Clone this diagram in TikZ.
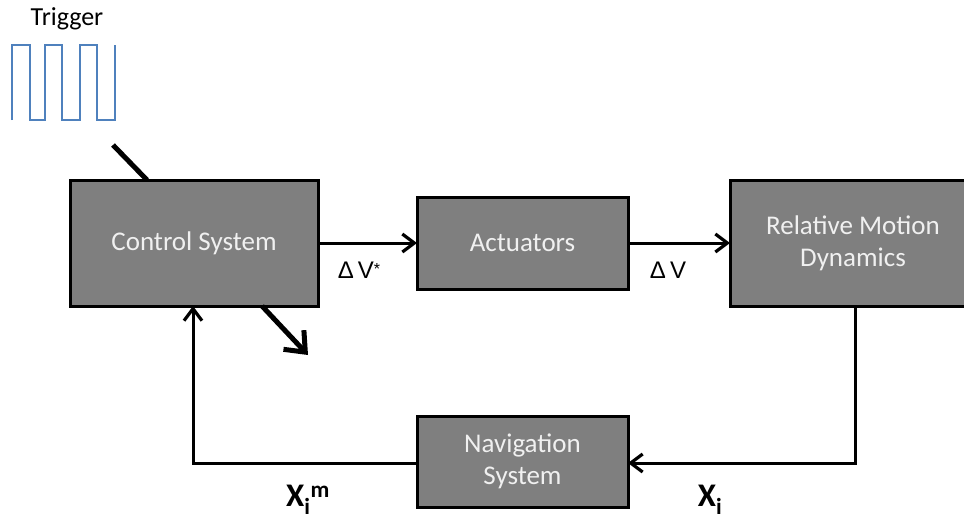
\documentclass[tikz,border=0pt]{standalone}
\usepackage{fontspec}
\setmainfont{Carlito}
\newfontfamily\lblfont{Liberation Sans}
\usetikzlibrary{arrows.meta}
\definecolor{boxgray}{HTML}{7F7F7F}
\definecolor{wave}{HTML}{4F81BD}
\tikzset{
  block/.style={draw=black, fill=boxgray, line width=3pt, inner sep=0pt, outer sep=0pt,
    text=white!94!black, font=\fontsize{27}{32}\selectfont, align=center},
  conn/.style={line width=3pt, -{Straight Barb[length=12pt,width=18pt,line width=3.2pt]}},
  thickarr/.style={line width=5pt, -{Straight Barb[length=17pt,width=28pt,line width=5pt]}},
  lbl/.style={font=\lblfont\fontsize{24}{26}\selectfont, text=black, inner sep=0pt},
  xlbl/.style={font=\bfseries\fontsize{33}{34}\selectfont, text=black, inner sep=0pt}
}
\begin{document}
\begin{tikzpicture}[x=1pt,y=-1pt]
\useasboundingbox (0,0) rectangle (964,520);
\clip (0,0) rectangle (964,520);
\fill[white] (0,0) rectangle (964,520);
% blocks
\node[block, minimum width=248pt, minimum height=126pt] (cs) at (194,243) {Control System};
\node[block, minimum width=211pt, minimum height=92pt] (act) at (522.5,243) {Actuators};
\node[block, minimum width=246pt, minimum height=126pt] (rmd) at (853,243) {Relative Motion\\Dynamics};
\node[block, minimum width=211pt, minimum height=91pt] (nav) at (522.5,461.5) {Navigation\\System};
% trigger
\node[font=\fontsize{26}{28}\selectfont, inner sep=0pt] (trig) at (67,19) {Trigger};
\draw[wave, line width=2.4pt, line join=miter] (12,120) coordinate (w0) -- (12,45) -- (30,45) -- (30,120) -- (45,120) -- (45,45)
  -- (62,45) -- (62,120) -- (80,120) -- (80,45) -- (97,45) -- (97,120) -- (115,120) -- (115,45) coordinate (w1);
\coordinate (t0) at (113,145);
\coordinate (t1) at (147,180);
\draw[line width=5pt] (t0) -- (cs.north -| t1);
% connectors
\draw[conn] (cs.east) -- (act.west);
\draw[conn] (act.east) -- (rmd.west);
\coordinate (c1) at (855,463);
\draw[conn] (rmd.south -| c1) -- (c1) -- (nav.east |- c1);
\coordinate (c2) at (193,463);
\draw[conn] (nav.west |- c2) -- (c2) -- (cs.south -| c2);
\coordinate (d0) at (262,306);
\coordinate (d1) at (308,355);
\draw[thickarr] (cs.south -| d0) -- (d1);
% labels
\node[lbl] (dvs) at (359,270) {Δ\,V\raisebox{4pt}{\fontsize{16}{16}\selectfont *}};
\node[lbl] (dv) at (668,270) {Δ\,V};
\node[xlbl] (xm) at (308,500) {X\textsubscript{i}\textsuperscript{m}};
\node[xlbl] (xi) at (710,500) {X\textsubscript{i}};
\end{tikzpicture}
\end{document}
